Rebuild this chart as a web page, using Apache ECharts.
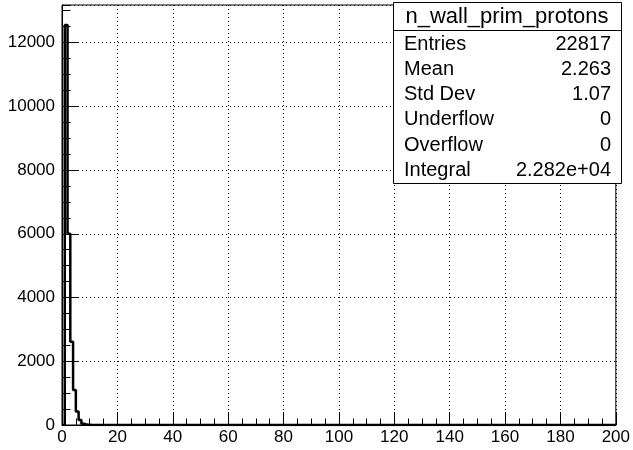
<!DOCTYPE html>
<html>
<head>
<meta charset="utf-8">
<script src="https://cdn.jsdelivr.net/npm/echarts@6/dist/echarts.min.js"></script>
<style>
html,body{margin:0;padding:0;background:#fff;}
#c{width:633px;height:450px;}
</style>
</head>
<body>
<div id="c"></div>
<script>
// Histogram data: bin width 1, starting at 0
const binStart = 0;
const binWidth = 1;
const counts = [0, 12550, 6000, 2610, 1100, 420, 160, 40, 12, 4, 1];
const xRange = [0, 200];
const yMax = 13178; // ROOT: 1.05 * max bin
const xTicks = [0, 20, 40, 60, 80, 100, 120, 140, 160, 180, 200];
const yTicks = [0, 2000, 4000, 6000, 8000, 10000, 12000];

const statsTitle = "n_wall_prim_protons";
const statsNames = ["Entries", "Mean", "Std Dev", "Underflow", "Overflow", "Integral"];
const statsValues = ["22817", "2.263", "1.07", "0", "0", "2.282e+04"];

// build step outline
const pts = [];
for (let i = 0; i < counts.length; i++) {
  const lo = binStart + i * binWidth, hi = lo + binWidth;
  pts.push([lo, counts[i]]);
  pts.push([hi, counts[i]]);
}
pts.push([xRange[1], 0]);

const FONT = "'Liberation Sans', Arial, sans-serif";
const chart = echarts.init(document.getElementById('c'), null, {renderer: 'canvas'});

const boxX = 393, boxY = 2, boxW = 228, boxH = 181, titleH = 28;
const graphics = [
  {type: 'rect', shape: {x: boxX + 0.5, y: boxY + 0.5, width: boxW, height: boxH},
   style: {fill: '#fff', stroke: '#000', lineWidth: 1}, z: 100},
  {type: 'line', shape: {x1: boxX, y1: boxY + titleH + 0.5, x2: boxX + boxW, y2: boxY + titleH + 0.5},
   style: {stroke: '#000', lineWidth: 1}, z: 101},
  {type: 'text', x: boxX + boxW / 2, y: boxY + titleH / 2 + 1,
   style: {text: statsTitle, font: '22px ' + FONT, fill: '#000', align: 'center', verticalAlign: 'middle'}, z: 102}
];
statsNames.forEach((n, i) => {
  const cy = boxY + 42 + i * 25.3;
  graphics.push({type: 'text', x: boxX + 11, y: cy,
    style: {text: n, font: '20px ' + FONT, fill: '#000', align: 'left', verticalAlign: 'middle'}, z: 102});
  graphics.push({type: 'text', x: boxX + boxW - 10, y: cy,
    style: {text: statsValues[i], font: '20px ' + FONT, fill: '#000', align: 'right', verticalAlign: 'middle'}, z: 102});
});

const labelStyle = {color: '#000', fontSize: 17, fontFamily: FONT};
const gridLine = {show: true, lineStyle: {color: '#000', width: 1, type: [1, 3]}};

chart.setOption({
  animation: false,
  backgroundColor: '#fff',
  grid: {left: 62, top: 5, width: 556, height: 420, show: true, borderColor: '#000', borderWidth: 1, backgroundColor: 'transparent'},
  xAxis: [{
    type: 'value', min: xRange[0], max: xRange[1], interval: xTicks[1] - xTicks[0],
    axisLine: {show: true, onZero: false, lineStyle: {color: '#000', width: 1}},
    axisTick: {show: true, inside: true, length: 13, lineStyle: {color: '#000'}},
    minorTick: {show: true, splitNumber: 4, length: 6.5, lineStyle: {color: '#000'}},
    axisLabel: Object.assign({margin: 4, formatter: v => String(v)}, labelStyle),
    splitLine: gridLine
  }],
  yAxis: [{
    type: 'value', min: 0, max: yMax, interval: yTicks[1] - yTicks[0],
    axisLine: {show: true, onZero: false, lineStyle: {color: '#000', width: 1}},
    axisTick: {show: true, inside: true, length: 17, lineStyle: {color: '#000'}},
    axisLabel: Object.assign({margin: 7, showMaxLabel: false, formatter: v => String(v)}, labelStyle),
    splitLine: gridLine
  }, {
    type: 'value', min: 0, max: yMax, interval: (yTicks[1] - yTicks[0]) / 4, position: 'left', offset: 0,
    axisLine: {show: false},
    axisTick: {show: true, inside: true, length: 8.5, lineStyle: {color: '#000'}},
    axisLabel: {show: false},
    splitLine: {show: false}
  }],
  graphic: graphics,
  series: [{
    type: 'line', data: pts, xAxisIndex: 0, yAxisIndex: 0,
    symbol: 'none', lineStyle: {color: '#000', width: 2.5}, z: 10, clip: true
  }]
});
</script>
</body>
</html>
